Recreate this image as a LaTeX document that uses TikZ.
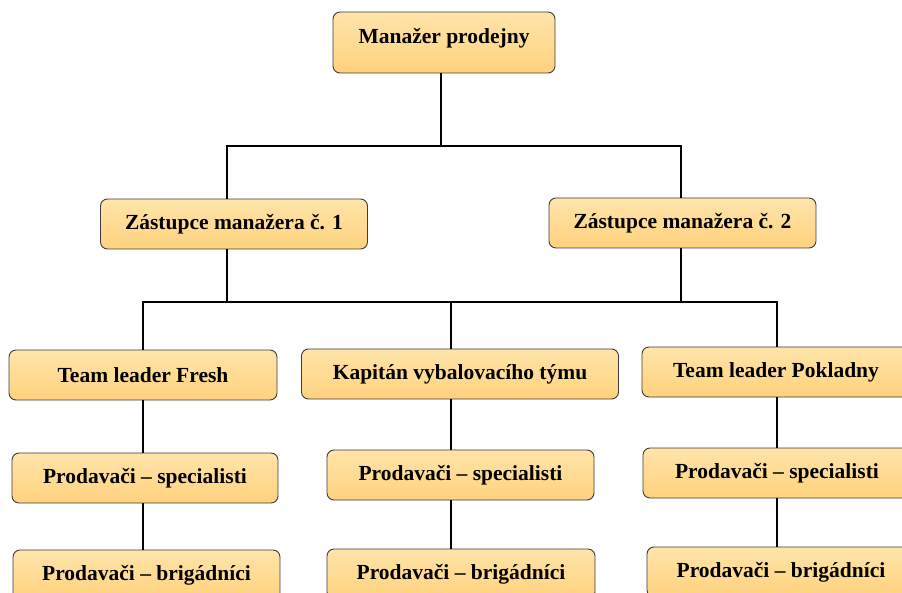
\documentclass[tikz,border=0pt]{standalone}
\usepackage{fontspec}
\setmainfont{Liberation Serif}
\definecolor{boxtop}{RGB}{255,228,170}
\definecolor{boxbot}{RGB}{255,210,125}
\definecolor{boxline}{RGB}{60,60,60}
\tikzset{
  funkce/.style={draw=boxline, line width=0.9pt, rounded corners=7pt,
    top color=boxtop, bottom color=boxbot, inner sep=0pt,
    minimum height=50pt, font=\fontsize{21.5}{26}\selectfont\bfseries},
  spoj/.style={line width=2pt, black}
}
\begin{document}
\begin{tikzpicture}[x=1pt, y=-1pt]
    % 1. Vymezení obrázku
    \useasboundingbox (0,0) rectangle (902,593);
    \clip (0,0) rectangle (902,593);

    % 2. Funkce (uzly)
    \node[funkce, minimum width=222pt, minimum height=61pt, text depth=14pt] (mgr) at (444,42.5) {Manažer prodejny};
    \node[funkce, minimum width=267pt] (z1) at (234,224) {Zástupce manažera č. 1};
    \node[funkce, minimum width=267pt] (z2) at (682.5,223) {Zástupce manažera č. 2};

    \node[funkce, minimum width=268pt] (tl1) at (143,375) {Team leader Fresh};
    \node[funkce, minimum width=317pt] (kap) at (460,374) {Kapitán vybalovacího týmu};
    \node[funkce, minimum width=268pt] (tl3) at (776,372) {Team leader Pokladny};

    \node[funkce, minimum width=266pt] (sp1) at (145,478) {Prodavači – specialisti};
    \node[funkce, minimum width=267pt] (sp2) at (460.5,475) {Prodavači – specialisti};
    \node[funkce, minimum width=268pt] (sp3) at (777,473) {Prodavači – specialisti};

    \node[funkce, minimum width=267pt] (br1) at (146.5,575) {Prodavači – brigádníci};
    \node[funkce, minimum width=268pt] (br2) at (461,574) {Prodavači – brigádníci};
    \node[funkce, minimum width=268pt] (br3) at (781,572) {Prodavači – brigádníci};

    % 3. Uzly spojovacích čar
    \coordinate (h0) at (441,146);
    \coordinate (h1) at (227,146);
    \coordinate (h2) at (681,146);
    \coordinate (d1) at (227,302);
    \coordinate (d2) at (681,302);
    \coordinate (k1) at (143,302);
    \coordinate (k2) at (451,302);
    \coordinate (k3) at (777,302);

    % 4. Spoje manažer -> zástupci
    \draw[spoj] (h0 |- mgr.south) -- (h0);
    \draw[spoj] (h1 |- z1.north) -- (h1) -- (h2) -- (h2 |- z2.north);

    % 5. Spoje zástupci -> vedoucí týmů
    \draw[spoj] (d1 |- z1.south) -- (d1);
    \draw[spoj] (d2 |- z2.south) -- (d2);
    \draw[spoj] (k1 |- tl1.north) -- (k1) -- (k3) -- (k3 |- tl3.north);
    \draw[spoj] (k2) -- (k2 |- kap.north);

    % 6. Sloupce prodavačů
    \draw[spoj] (k1 |- tl1.south) -- (k1 |- sp1.north);
    \draw[spoj] (k1 |- sp1.south) -- (k1 |- br1.north);
    \draw[spoj] (k2 |- kap.south) -- (k2 |- sp2.north);
    \draw[spoj] (k2 |- sp2.south) -- (k2 |- br2.north);
    \draw[spoj] (k3 |- tl3.south) -- (k3 |- sp3.north);
    \draw[spoj] (k3 |- sp3.south) -- (k3 |- br3.north);
\end{tikzpicture}
\end{document}
